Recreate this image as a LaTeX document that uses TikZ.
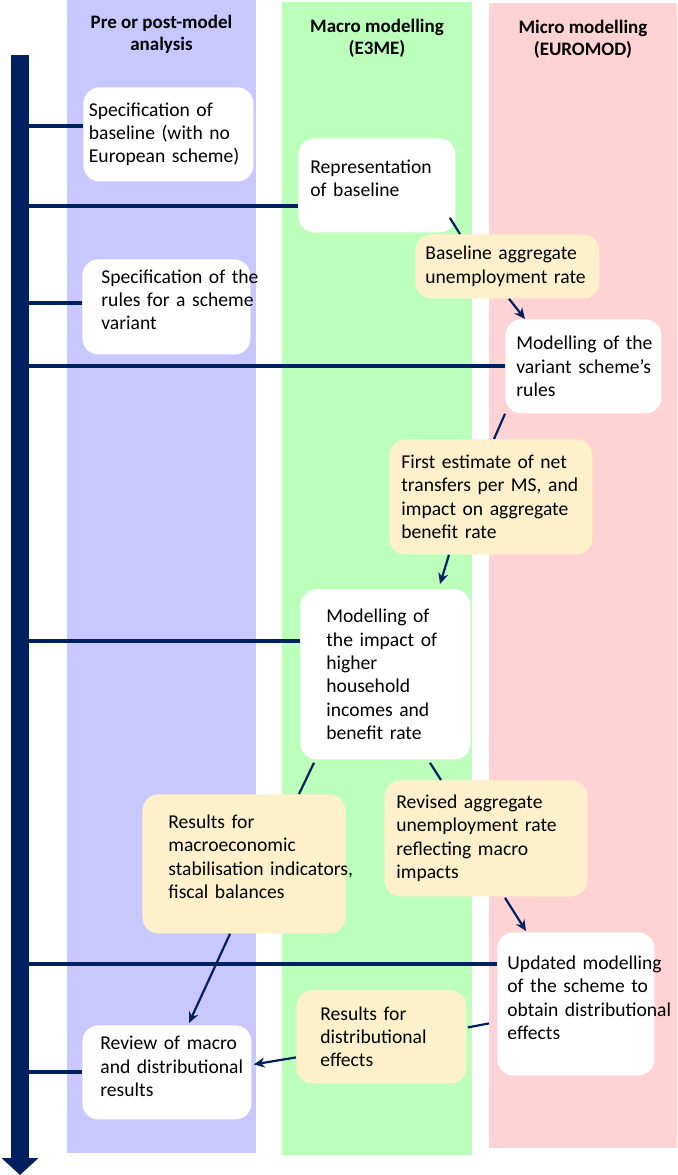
\documentclass[tikz,border=0pt]{standalone}
\usepackage{fontspec}
\setmainfont{Carlito}
\usetikzlibrary{arrows.meta,calc}

\definecolor{navy}{RGB}{0,32,96}
\definecolor{precol}{RGB}{200,200,255}
\definecolor{macrocol}{RGB}{187,255,187}
\definecolor{microcol}{RGB}{255,211,211}
\definecolor{resultcol}{RGB}{255,240,204}

\begin{document}
\begin{tikzpicture}[x=0.5pt,y=-0.5pt,
    header/.style={font=\bfseries\fontsize{9.5pt}{11pt}\selectfont, align=center},
    stagebox/.style={fill=white, rounded corners=8pt, anchor=north west, align=left,
        inner ysep=0pt, font=\fontsize{9.8pt}{11.65pt}\selectfont,
        execute at begin node={\hyphenpenalty=10000\exhyphenpenalty=10000}},
    resultbox/.style={stagebox, fill=resultcol},
    textup/.style={execute at end node={\endgraf\vspace{#1}}},
    branch/.style={navy, line width=2pt},
    link/.style={navy, line width=1.1pt},
    linkarr/.style={link, -{Stealth[length=5.5pt,width=5pt]}}]
    \useasboundingbox (0,0) rectangle (677,1175);

    % the three lanes
    \fill[precol] (67,0) rectangle (256,1153);
    \fill[macrocol] (282,2) rectangle (472,1155);
    \fill[microcol] (489,3) rectangle (677,1148);
    \node[header] (hpre) at (161.5,34) {Pre or post-model\\analysis};
    \node[header] (hmacro) at (377,38) {Macro modelling\\(E3ME)};
    \node[header] (hmicro) at (583,39) {Micro modelling\\(EUROMOD)};

    % pre or post-model analysis
    \node[stagebox, text width=79.5pt, inner xsep=2.75pt, minimum height=47pt] (specbase) at (83,87)
        {Specification of\\baseline (with no\\European scheme)};
    \node[stagebox, text width=65pt, inner xsep=9.5pt, minimum height=47.5pt, textup=7pt] (specrules) at (82,259)
        {Specification~of~the\\rules~for~a~scheme\\variant};
    \node[resultbox, text width=75.5pt, inner xsep=13pt, minimum height=69.5pt, textup=7pt] (resmacro) at (142,794)
        {Results for\\macroeconomic\\stabilisation~indicators,\\fiscal balances};
    \node[stagebox, text width=66.5pt, inner xsep=9pt, minimum height=47pt, textup=6pt] (review) at (82,1025)
        {Review~of~macro\\and~distributional\\results};

    % macro modelling
    \node[stagebox, text width=66.5pt, inner xsep=6pt, minimum height=47pt, textup=7pt] (repbase) at (298,138)
        {Representation\\of baseline};
    \node[resultbox, text width=82pt, inner xsep=5pt, minimum height=32pt] (baseunemp) at (415,234)
        {Baseline~aggregate\\unemployment~rate};
    \node[resultbox, text width=89.5pt, inner xsep=6pt, minimum height=57.5pt] (firstest) at (389,439)
        {First~estimate~of~net\\transfers~per~MS,~and\\impact~on~aggregate\\benefit rate};
    \node[stagebox, text width=59pt, inner xsep=13pt, minimum height=85pt] (modimpact) at (300,589)
        {Modelling of\\the impact of\\higher\\household\\incomes and\\benefit rate};
    \node[resultbox, text width=89.5pt, inner xsep=6pt, minimum height=58pt] (revunemp) at (384,780)
        {Revised aggregate\\unemployment~rate\\reflecting macro\\impacts};
    \node[resultbox, text width=61pt, inner xsep=12pt, minimum height=46.5pt] (resdist) at (296,990)
        {Results for\\distributional\\effects};

    % micro modelling
    \node[stagebox, text width=67pt, inner xsep=5.5pt, minimum height=47pt] (modvar) at (505,319)
        {Modelling~of~the\\variant~scheme’s\\rules};
    \node[stagebox, text width=68.5pt, inner xsep=5pt, minimum height=71.5pt, textup=6pt] (updmod) at (497,932)
        {Updated~modelling\\of~the~scheme~to\\obtain~distributional\\effects};

    % time line and its branches
    \coordinate (top) at (20,55);
    \coordinate (bottom) at (20,1175);
    \draw[branch] ($(specbase.west)+(0,-8)$) coordinate (b1) -- (b1 -| top);
    \draw[branch] ($(repbase.west)+(0,21)$) coordinate (b2) -- (b2 -| top);
    \draw[branch] ($(specrules.west)+(0,-3.5)$) coordinate (b3) -- (b3 -| top);
    \draw[branch] (modvar.west) -- (modvar.west -| top);
    \draw[branch] ($(modimpact.west)+(0,-33)$) coordinate (b5) -- (b5 -| top);
    \draw[branch] ($(updmod.west)+(0,-39.5)$) coordinate (b6) -- (b6 -| top);
    \draw[branch] (review.west) -- (review.west -| top);
    \draw[navy, line width=9pt, -{Triangle[width=18pt,length=8.5pt]}] (top) -- (bottom);

    % links between the steps
    \draw[link] ($(repbase.south east)+(-6,-15)$) -- ($(baseunemp.north west)+(45,0)$);
    \draw[linkarr] ($(baseunemp.south west)+(94,0)$) -- ($(modvar.north west)+(20,0)$);
    \draw[link] (modvar.south west) -- ($(firstest.north west)+(105,0)$);
    \draw[linkarr] ($(firstest.south west)+(60,0)$) -- ($(modimpact.north west)+(140,-5)$);
    \draw[link] ($(modimpact.south west)+(14,3)$) -- ($(resmacro.north west)+(157,0)$);
    \draw[link] ($(modimpact.south west)+(130,3)$) -- ($(revunemp.north west)+(57,0)$);
    \draw[linkarr] ($(revunemp.south west)+(121,1)$) -- ($(updmod.north west)+(29,-1)$);
    \draw[linkarr] ($(resmacro.south west)+(88,0)$) -- ($(review.north west)+(107,-2)$);
    \draw[link] ($(updmod.west)+(-8,19.5)$) -- ($(resdist.east)+(1,-9.5)$);
    \draw[linkarr] ($(resdist.west)+(0,20.5)$) -- ($(review.east)+(2,-8)$);

\end{tikzpicture}
\end{document}
